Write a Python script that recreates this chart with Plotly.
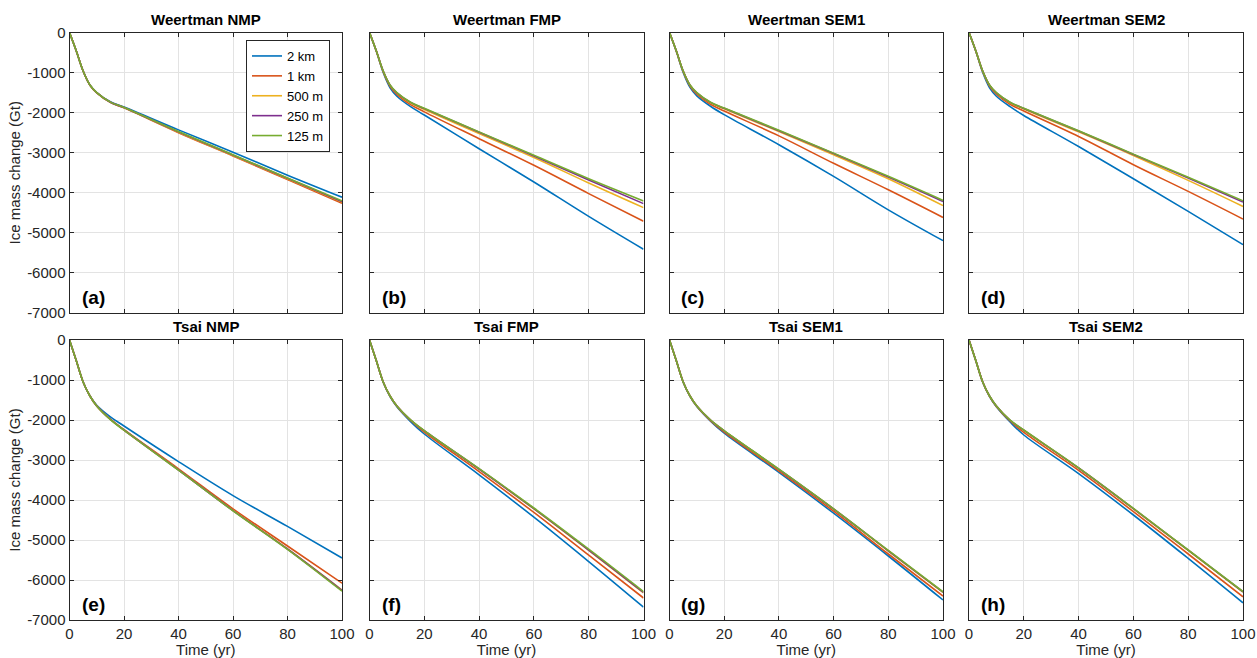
import plotly.graph_objects as go
from plotly.subplots import make_subplots

# ---------------- data ----------------
time_yr = [0, 2.5, 5, 7.5, 10, 15, 20, 40, 60, 80, 100]
resolutions = ["2 km", "1 km", "500 m", "250 m", "125 m"]
panel_titles = ["Weertman NMP", "Weertman FMP", "Weertman SEM1", "Weertman SEM2",
                "Tsai NMP", "Tsai FMP", "Tsai SEM1", "Tsai SEM2"]
panel_letters = ["(a)", "(b)", "(c)", "(d)", "(e)", "(f)", "(g)", "(h)"]
x_ticks = [0, 20, 40, 60, 80, 100]
y_ticks = [0, -1000, -2000, -3000, -4000, -5000, -6000, -7000]

weertman_nmp = [
    [0, -460, -960, -1310, -1500, -1730, -1860, -2430, -2990, -3560, -4110],
    [0, -460, -960, -1315, -1505, -1745, -1880, -2500, -3080, -3670, -4260],
    [0, -460, -960, -1312, -1502, -1740, -1875, -2490, -3070, -3650, -4230],
    [0, -460, -960, -1312, -1502, -1740, -1872, -2480, -3060, -3640, -4220],
    [0, -460, -960, -1310, -1500, -1738, -1870, -2470, -3050, -3630, -4200],
]
weertman_fmp = [
    [0, -470, -1000, -1380, -1590, -1850, -2060, -2900, -3730, -4590, -5410],
    [0, -465, -980, -1340, -1545, -1800, -1980, -2650, -3315, -4020, -4710],
    [0, -460, -965, -1320, -1515, -1760, -1920, -2520, -3120, -3755, -4370],
    [0, -460, -960, -1312, -1505, -1745, -1900, -2490, -3080, -3680, -4270],
    [0, -460, -960, -1310, -1500, -1740, -1890, -2480, -3065, -3650, -4205],
]
weertman_sem1 = [
    [0, -470, -995, -1370, -1580, -1840, -2050, -2800, -3590, -4425, -5195],
    [0, -465, -975, -1335, -1540, -1790, -1960, -2580, -3265, -3925, -4615],
    [0, -460, -965, -1318, -1512, -1755, -1905, -2470, -3050, -3650, -4320],
    [0, -460, -960, -1312, -1505, -1745, -1892, -2450, -3020, -3605, -4215],
    [0, -460, -960, -1310, -1500, -1740, -1885, -2440, -3010, -3590, -4190],
]
weertman_sem2 = [
    [0, -470, -1000, -1380, -1590, -1850, -2070, -2845, -3650, -4465, -5295],
    [0, -465, -975, -1335, -1540, -1790, -1960, -2595, -3300, -3965, -4655],
    [0, -460, -965, -1318, -1512, -1755, -1910, -2480, -3070, -3690, -4340],
    [0, -460, -960, -1312, -1505, -1745, -1895, -2460, -3045, -3630, -4230],
    [0, -460, -960, -1310, -1500, -1740, -1890, -2450, -3035, -3615, -4200],
]
tsai_nmp = [
    [0, -520, -1050, -1400, -1630, -1920, -2150, -3040, -3890, -4660, -5450],
    [0, -520, -1050, -1400, -1650, -1980, -2240, -3220, -4220, -5150, -6080],
    [0, -520, -1050, -1400, -1650, -1985, -2250, -3245, -4260, -5220, -6250],
    [0, -520, -1050, -1400, -1650, -1985, -2250, -3250, -4265, -5225, -6260],
    [0, -520, -1050, -1400, -1650, -1990, -2255, -3255, -4270, -5235, -6280],
]
tsai_fmp = [
    [0, -520, -1055, -1415, -1670, -2040, -2350, -3370, -4430, -5540, -6680],
    [0, -520, -1050, -1405, -1655, -2010, -2300, -3290, -4310, -5380, -6450],
    [0, -520, -1050, -1400, -1650, -2000, -2270, -3230, -4220, -5260, -6320],
    [0, -520, -1050, -1400, -1650, -2000, -2268, -3225, -4215, -5250, -6310],
    [0, -520, -1050, -1400, -1650, -1995, -2265, -3215, -4200, -5230, -6290],
]
tsai_sem1 = [
    [0, -520, -1052, -1410, -1665, -2030, -2330, -3310, -4330, -5400, -6500],
    [0, -520, -1050, -1405, -1658, -2015, -2300, -3275, -4280, -5350, -6400],
    [0, -520, -1050, -1400, -1652, -2005, -2272, -3240, -4230, -5275, -6310],
    [0, -520, -1050, -1400, -1652, -2005, -2270, -3235, -4225, -5270, -6305],
    [0, -520, -1050, -1400, -1650, -2000, -2265, -3230, -4220, -5260, -6295],
]
tsai_sem2 = [
    [0, -520, -1055, -1415, -1670, -2050, -2375, -3340, -4375, -5460, -6570],
    [0, -520, -1050, -1408, -1660, -2025, -2310, -3260, -4290, -5350, -6420],
    [0, -520, -1050, -1402, -1652, -2010, -2260, -3205, -4220, -5260, -6300],
    [0, -520, -1050, -1400, -1652, -2008, -2255, -3200, -4215, -5255, -6295],
    [0, -520, -1050, -1400, -1650, -2005, -2250, -3195, -4210, -5250, -6290],
]
panels = [weertman_nmp, weertman_fmp, weertman_sem1, weertman_sem2,
          tsai_nmp, tsai_fmp, tsai_sem1, tsai_sem2]

colors = ["#0072BD", "#D95319", "#EDB120", "#7E2F8E", "#77AC30"]

# ---------------- figure ----------------
W, H = 1257, 658
fig = make_subplots(rows=2, cols=4)

col_px = [(69.5, 342), (369.5, 643.5), (669.5, 943), (969, 1243)]
row_px = [(32.5, 313), (340, 620)]

FONT = "Liberation Sans, Arial, sans-serif"
AX = "#262626"

for i, series in enumerate(panels):
    r, c = i // 4 + 1, i % 4 + 1
    for j, ys in enumerate(series):
        fig.add_trace(go.Scatter(
            x=time_yr, y=ys, mode="lines", name=resolutions[j],
            line=dict(color=colors[j], width=1.6, shape="spline", smoothing=1.0),
            showlegend=(i == 0), legendgroup=resolutions[j]),
            row=r, col=c)

    x0, x1 = col_px[c - 1]
    yt, yb = row_px[r - 1]
    xdom = [x0 / W, x1 / W]
    ydom = [(H - yb) / H, (H - yt) / H]
    fig.update_xaxes(domain=xdom, range=[0, 100], tickvals=x_ticks,
                     ticktext=[str(v) for v in x_ticks],
                     showticklabels=(r == 2), row=r, col=c)
    fig.update_yaxes(domain=ydom, range=[-7000, 0], tickvals=y_ticks,
                     ticktext=[str(v) if v == 0 else "-" + str(-v) for v in y_ticks],
                     showticklabels=(c == 1), row=r, col=c)

    # panel title
    fig.add_annotation(text="<b>" + panel_titles[i] + "</b>", xref="paper", yref="paper",
                       x=(x0 + x1) / 2 / W, y=(H - yt + 3) / H, xanchor="center", yanchor="bottom",
                       showarrow=False, font=dict(family=FONT, size=15, color="#000000"))
    # panel letter
    fig.add_annotation(text="<b>" + panel_letters[i] + "</b>", xref="paper", yref="paper",
                       x=(x0 + 10) / W, y=(H - yb + 3) / H, xanchor="left", yanchor="bottom",
                       showarrow=False, font=dict(family=FONT, size=19, color="#000000"))

fig.update_xaxes(showline=True, linecolor=AX, linewidth=1, mirror="allticks",
                 ticks="inside", ticklen=4, tickcolor=AX, automargin=False,
                 showgrid=True, gridcolor="#e3e3e3", gridwidth=1, zeroline=False,
                 tickfont=dict(family=FONT, size=15, color=AX))
fig.update_yaxes(showline=True, linecolor=AX, linewidth=1, mirror="allticks",
                 ticks="inside", ticklen=4, tickcolor=AX, automargin=False,
                 showgrid=True, gridcolor="#e3e3e3", gridwidth=1, zeroline=False,
                 tickfont=dict(family=FONT, size=15, color=AX))

for c in range(1, 5):
    fig.update_xaxes(title=dict(text="Time (yr)", standoff=0,
                                font=dict(family=FONT, size=15, color=AX)), row=2, col=c)
for r in range(1, 3):
    fig.update_yaxes(title=dict(text="Ice mass change (Gt)", standoff=2,
                                font=dict(family=FONT, size=15, color=AX)), row=r, col=1)

fig.update_layout(
    width=W, height=H,
    margin=dict(l=0, r=0, t=0, b=0),
    paper_bgcolor="white", plot_bgcolor="white",
    font=dict(family=FONT, size=15, color=AX),
    legend=dict(x=330 / W, y=(H - 40) / H, xanchor="right", yanchor="top",
                bgcolor="white", bordercolor=AX, borderwidth=1,
                font=dict(family=FONT, size=13, color="#000000"),
                itemwidth=30, tracegroupgap=0),
)

fig.write_html("out.html", config={"displayModeBar": False},
               post_script="document.body.style.margin='0px';document.body.style.overflow='hidden';")
